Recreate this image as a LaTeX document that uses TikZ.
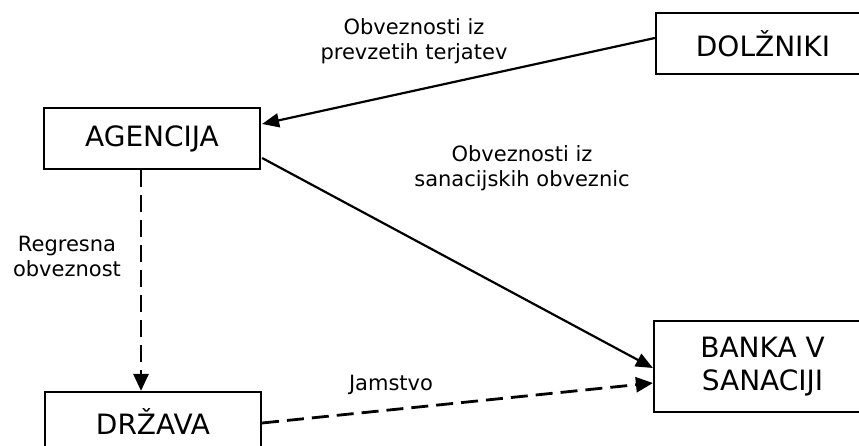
\documentclass[tikz,border=0pt]{standalone}
\usepackage{fontspec}
\setmainfont{DejaVu Sans}
\usepackage{tikz}
\usetikzlibrary{positioning,calc,arrows.meta}

\begin{document}
\begin{tikzpicture}[x=1pt,y=1pt,
    party/.style={draw, line width=2.2pt, inner sep=0pt, font=\fontsize{28}{33}\selectfont, align=center},
    flowlabel/.style={font=\fontsize{21}{25}\selectfont, align=center},
    claim/.style={line width=2.2pt, -{Triangle[length=17pt,width=14pt]}},
    guarantee/.style={line width=2.8pt, dash pattern=on 17pt off 8pt, -{Triangle[length=17pt,width=15pt]}}]
    \useasboundingbox (0,0) rectangle (859,445);
    \clip (0,0) rectangle (859,445);
    % Boxes
    \node [party, minimum width=216pt, minimum height=61pt] (agencija) at (152,306.5) {AGENCIJA};
    \node [party, minimum width=214pt, minimum height=61pt] (dolzniki) at (763,401.5) {DOLŽNIKI};
    \node [party, minimum width=217pt, minimum height=91pt] (banka) at (762.5,78.5) {BANKA V\\SANACIJI};
    \node [party, minimum width=216pt, minimum height=59pt] (drzava) at (153,23.5) {DRŽAVA};
    % Solid arrows
    \draw [claim] ($(dolzniki.west)+(0,5.5)$) -- ($(agencija.east)+(1,14.5)$);
    \draw [claim] ($(agencija.east)+(1,-19.5)$) -- ($(banka.west)+(0,-1.5)$);
    \node [flowlabel] (prevzete) at (414,404) {Obveznosti iz\\prevzetih terjatev};
    \node [flowlabel] (sanacijske) at (522,277) {Obveznosti iz\\sanacijskih obveznic};
    % Dashed arrows
    \draw [guarantee] ($(agencija.south)+(-11,0)$) -- ($(drzava.north)+(-12,0)$);
    \draw [guarantee] ($(drzava.east)+(0,-1.5)$) -- ($(banka.west)+(0,-16.5)$);
    \node [flowlabel] (regres) at (67,188.5) {Regresna\\obveznost};
    \node [flowlabel] (jamstvo) at (391,60) {Jamstvo};
\end{tikzpicture}
\end{document}
